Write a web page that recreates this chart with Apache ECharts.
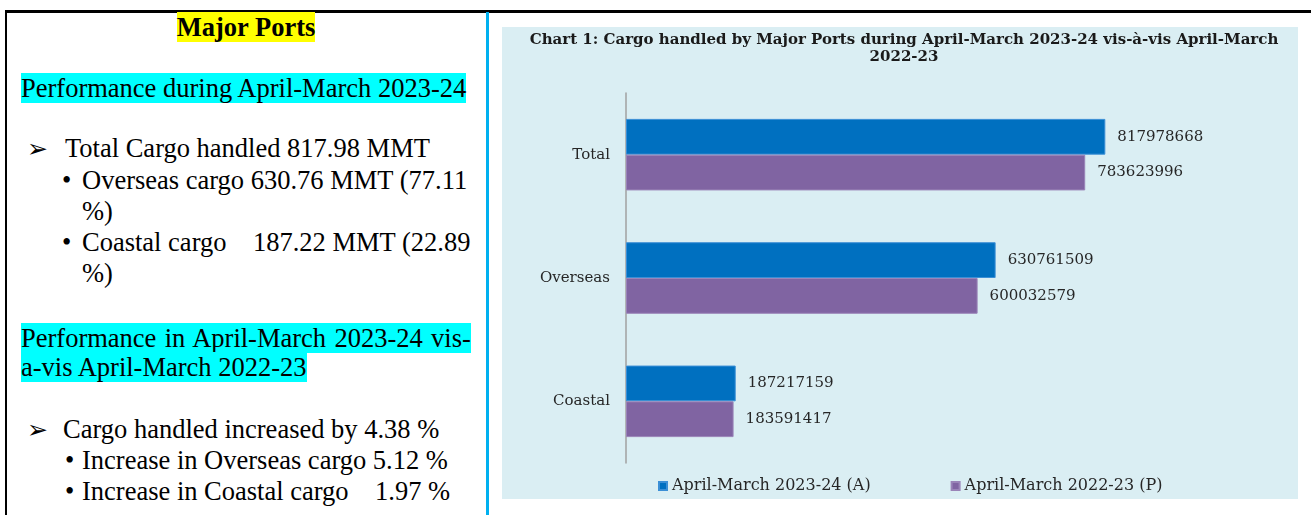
<!DOCTYPE html>
<html>
<head>
<meta charset="utf-8">
<script src="https://cdn.jsdelivr.net/npm/echarts@6/dist/echarts.min.js"></script>
<style>
  html, body { margin: 0; padding: 0; background: #fff; }
  body { width: 1311px; height: 515px; position: relative; overflow: hidden; }
  .rule { position: absolute; }
  .ln {
    position: absolute; white-space: pre;
    font-family: "Liberation Serif", "Times New Roman", serif;
    font-size: 26.5px; line-height: 31px; color: #000;
  }
  .arr { font-family: "DejaVu Sans", sans-serif; font-size: 25px; }
  .cy { background: #00ffff; }
  .yl { background: #ffff00; font-weight: bold; }
  #chart { position: absolute; left: 502px; top: 27px; width: 796px; height: 472px; background: #daeef3; }
</style>
</head>
<body>
  <div class="rule" style="left:5px;top:10px;width:1306px;height:3px;background:#000"></div>
  <div class="rule" style="left:5px;top:10px;width:2px;height:505px;background:#000"></div>
  <div class="rule" style="left:486px;top:12px;width:3px;height:503px;background:#00b0f0"></div>

  <div class="ln" style="left:7px;width:478px;top:12px;text-align:center"><span class="yl">Major Ports</span></div>
  <div class="ln" style="left:21px;top:73px"><span class="cy">Performance during April-March 2023-24</span></div>

  <div class="ln arr" style="left:27px;top:133px">➢</div>
  <div class="ln" style="left:65px;top:133px">Total Cargo handled 817.98 MMT</div>
  <div class="ln" style="left:62px;top:165px">•</div>
  <div class="ln" style="left:82px;top:165px">Overseas cargo 630.76 MMT (77.11</div>
  <div class="ln" style="left:82px;top:196px">%)</div>
  <div class="ln" style="left:62px;top:227px">•</div>
  <div class="ln" style="left:82px;top:227px">Coastal cargo    187.22 MMT (22.89</div>
  <div class="ln" style="left:82px;top:258px">%)</div>

  <div class="ln" style="left:21px;top:323px;word-spacing:1.7px"><span class="cy">Performance in April-March 2023-24 vis-</span></div>
  <div class="ln" style="left:21px;top:352px"><span class="cy">a-vis April-March 2022-23</span></div>

  <div class="ln arr" style="left:27px;top:414px">➢</div>
  <div class="ln" style="left:63px;top:414px">Cargo handled increased by 4.38 %</div>
  <div class="ln" style="left:65px;top:445px">•</div>
  <div class="ln" style="left:82px;top:445px">Increase in Overseas cargo 5.12 %</div>
  <div class="ln" style="left:65px;top:476px">•</div>
  <div class="ln" style="left:82px;top:476px">Increase in Coastal cargo    1.97 %</div>

  <div id="chart"></div>

<script>
// chart data
const categories = ['Total', 'Overseas', 'Coastal']
const seriesNames = ['April-March 2023-24 (A)', 'April-March 2022-23 (P)']
const cargo2324 = [817978668, 630761509, 187217159]
const cargo2223 = [783623996, 600032579, 183591417]

const chart = echarts.init(document.getElementById('chart'))
const serif = 'DejaVu Serif'

const labelStyle = {
  show: true,
  position: 'right',
  distance: 12,
  fontFamily: serif,
  fontSize: 15,
  color: '#262626'
}

const options = {
  animation: false,
  title: {
    text: 'Chart 1: Cargo handled by Major Ports during April-March 2023-24 vis-à-vis April-March\n2022-23',
    left: 397,
    top: 0,
    textAlign: 'center',
    textStyle: {
      fontFamily: serif,
      fontWeight: 'bold',
      fontSize: 15,
      lineHeight: 17,
      color: '#1a1a1a'
    }
  },
  legend: {
    top: 446,
    left: 151,
    itemWidth: 8,
    itemHeight: 8,
    itemGap: 80,
    icon: 'rect',
    textStyle: { fontFamily: serif, fontSize: 16, color: '#262626' },
    data: seriesNames
  },
  grid: {
    left: 124,
    right: 86,
    top: 66,
    bottom: 36
  },
  xAxis: {
    type: 'value',
    min: 0,
    max: 1000000000,
    show: false
  },
  yAxis: {
    type: 'category',
    inverse: true,
    data: categories,
    axisLine: { lineStyle: { color: '#a0a0a0', width: 1.5 } },
    axisTick: { length: 6, lineStyle: { color: '#a0a0a0', width: 1.5 } },
    axisLabel: {
      margin: 16,
      fontFamily: serif,
      fontSize: 15,
      color: '#262626'
    }
  },
  series: [
    {
      name: seriesNames[0],
      type: 'bar',
      data: cargo2324,
      barGap: '0%',
      barCategoryGap: '42%',
      itemStyle: { color: '#0070c0', borderColor: '#3b8fd6', borderWidth: 1 },
      label: labelStyle
    },
    {
      name: seriesNames[1],
      type: 'bar',
      data: cargo2223,
      barGap: '0%',
      barCategoryGap: '42%',
      itemStyle: { color: '#8064a2', borderColor: '#9a84b8', borderWidth: 1 },
      label: labelStyle
    }
  ]
}

chart.setOption(options)
</script>
</body>
</html>
